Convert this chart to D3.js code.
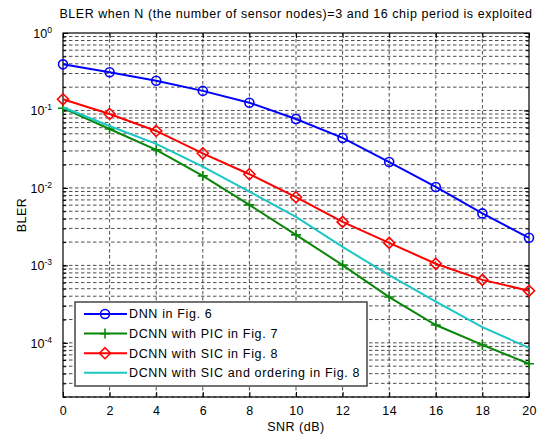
<!DOCTYPE html>
<html>
<head>
<meta charset="utf-8">
<script src="https://cdn.jsdelivr.net/npm/d3@7"></script>
<style>
  body { margin: 0; background: #fff; }
  svg { font-family: "Liberation Sans", Arial, sans-serif; }
</style>
</head>
<body>
<svg id="chart"></svg>
<script>
// Data
const snr = [0, 2, 4, 6, 8, 10, 12, 14, 16, 18, 20];
const dnn = [0.394, 0.311, 0.242, 0.179, 0.126, 0.0777, 0.0442, 0.0216, 0.0103, 0.00469, 0.00227];
const dcnnPic = [0.107, 0.0577, 0.031, 0.0143, 0.00604, 0.00248, 0.00101, 0.00039, 0.00017, 0.000094, 0.0000537];
const dcnnSic = [0.1395, 0.0901, 0.0544, 0.028, 0.01503, 0.00759, 0.00364, 0.00195, 0.00105, 0.00065, 0.00047];
const dcnnSicOrd = [0.11, 0.063, 0.037, 0.0188, 0.00896, 0.00423, 0.00173, 0.00075, 0.00034, 0.00016, 0.000086];

const xTicks = [0, 2, 4, 6, 8, 10, 12, 14, 16, 18, 20];
const yDecades = [0, -1, -2, -3, -4];
const legendNames = ['DNN in Fig. 6', 'DCNN with PIC in Fig. 7', 'DCNN with SIC in Fig. 8', 'DCNN with SIC and ordering in Fig. 8'];

const W = 542, H = 434;
const margin = { top: 33, right: 13, bottom: 37, left: 63 };
const width = W - margin.left - margin.right;
const height = H - margin.top - margin.bottom;

const svg = d3.select('#chart').attr('width', W).attr('height', H);
const g = svg.append('g').attr('transform', `translate(${margin.left},${margin.top})`);

const x = d3.scaleLinear().domain([0, 20]).range([0, width]);
const y = d3.scaleLog().domain([2e-5, 1]).range([height, 0]);

// minor values of the log axis
const minorVals = [];
for (let e = -5; e < 0; e++) {
  for (let m = 1; m <= 9; m++) {
    const v = m * Math.pow(10, e);
    if (v >= 2e-5 && v < 1) minorVals.push(v);
  }
}

g.append('rect').attr('width', width).attr('height', height).attr('fill', '#fff');

// grid
g.append('g').selectAll('line').data(minorVals).enter().append('line')
  .attr('x1', 0).attr('x2', width)
  .attr('y1', d => y(d)).attr('y2', d => y(d))
  .attr('stroke', '#000').attr('stroke-width', 0.7).attr('stroke-dasharray', '3.5,2.5');
g.append('g').selectAll('line').data(xTicks.slice(1, -1)).enter().append('line')
  .attr('x1', d => x(d)).attr('x2', d => x(d))
  .attr('y1', 0).attr('y2', height)
  .attr('stroke', '#000').attr('stroke-width', 0.7).attr('stroke-dasharray', '3.5,2.5');

// axes (ticks pointing inward, MATLAB style)
const xAxisB = g.append('g').attr('transform', `translate(0,${height})`)
  .call(d3.axisBottom(x).tickValues(xTicks).tickSize(-5).tickPadding(9));
g.append('g').call(d3.axisTop(x).tickValues(xTicks).tickSize(-5).tickFormat(''));

const yAxisL = g.append('g')
  .call(d3.axisLeft(y).tickValues(yDecades.map(e => Math.pow(10, e))).tickSize(-5).tickFormat(''));
g.append('g').call(d3.axisLeft(y).tickValues(minorVals).tickSize(-3).tickFormat(''));
g.append('g').attr('transform', `translate(${width},0)`)
  .call(d3.axisRight(y).tickValues(yDecades.map(e => Math.pow(10, e))).tickSize(-5).tickFormat(''));
g.append('g').attr('transform', `translate(${width},0)`)
  .call(d3.axisRight(y).tickValues(minorVals).tickSize(-3).tickFormat(''));

g.selectAll('.domain').remove();
g.selectAll('.tick line').attr('stroke', '#000').attr('stroke-width', 1);
xAxisB.selectAll('text').attr('font-size', 12.5).attr('fill', '#000')
  .attr('letter-spacing', 0.4)
  .attr('font-family', '"Liberation Sans", Arial, sans-serif');

// y tick labels: 10 with superscript exponent
yAxisL.selectAll('.tick').each(function (d) {
  const t = d3.select(this).append('text')
    .attr('x', -11).attr('dy', '0.35em').attr('text-anchor', 'end')
    .attr('fill', '#000').attr('font-size', 12.5)
    .attr('font-family', '"Liberation Sans", Arial, sans-serif');
  t.append('tspan').text('10');
  t.append('tspan').attr('dy', '-0.6em').attr('font-size', 8.5)
    .text(Math.round(Math.log10(d)));
});

// plot box
g.append('rect').attr('width', width).attr('height', height)
  .attr('fill', 'none').attr('stroke', '#000').attr('stroke-width', 1.2);

// series
const series = [
  { name: legendNames[0], values: dnn, color: '#0000ff', marker: 'circle' },
  { name: legendNames[1], values: dcnnPic, color: '#0a860a', marker: 'plus' },
  { name: legendNames[2], values: dcnnSic, color: '#ff0000', marker: 'diamond' },
  { name: legendNames[3], values: dcnnSicOrd, color: '#1cc6c6', marker: null }
];

const line = d3.line().x(d => x(d[0])).y(d => y(d[1]));

function drawMarker(sel, type, color) {
  if (type === 'circle') {
    sel.append('circle').attr('r', 4.5).attr('fill', 'none')
      .attr('stroke', color).attr('stroke-width', 1.6);
  } else if (type === 'plus') {
    sel.append('path').attr('d', 'M-5,0H5M0,-5V5').attr('fill', 'none')
      .attr('stroke', color).attr('stroke-width', 1.6);
  } else if (type === 'diamond') {
    sel.append('path').attr('d', 'M0,-5.5L5.5,0L0,5.5L-5.5,0Z').attr('fill', 'none')
      .attr('stroke', color).attr('stroke-width', 1.6);
  }
}

series.forEach(s => {
  const pts = snr.map((v, i) => [v, s.values[i]]);
  g.append('path').datum(pts).attr('d', line)
    .attr('fill', 'none').attr('stroke', s.color).attr('stroke-width', 2);
  if (s.marker) {
    pts.forEach(p => {
      const m = g.append('g').attr('transform', `translate(${x(p[0])},${y(p[1])})`);
      drawMarker(m, s.marker, s.color);
    });
  }
});

// legend
const lg = svg.append('g').attr('transform', 'translate(75,302)');
lg.append('rect').attr('width', 292).attr('height', 84)
  .attr('fill', '#fff').attr('stroke', '#444').attr('stroke-width', 1.5);
series.forEach((s, i) => {
  const row = lg.append('g').attr('transform', `translate(0,${12 + i * 19.6})`);
  row.append('line').attr('x1', 9).attr('x2', 52)
    .attr('stroke', s.color).attr('stroke-width', 2);
  if (s.marker) drawMarker(row.append('g').attr('transform', 'translate(30,0)'), s.marker, s.color);
  row.append('text').attr('x', 54).attr('dy', '0.35em')
    .attr('font-size', 12.5).attr('letter-spacing', 0.65).attr('fill', '#000').text(s.name);
});

// titles
svg.append('text').attr('x', margin.left + width / 2).attr('y', 18)
  .attr('text-anchor', 'middle').attr('font-size', 12.5).attr('letter-spacing', 0.55)
  .attr('fill', '#000')
  .text('BLER when N (the number of sensor nodes)=3 and 16 chip period is exploited');
svg.append('text').attr('x', margin.left + width / 2).attr('y', 431)
  .attr('text-anchor', 'middle').attr('font-size', 12.5).attr('letter-spacing', 0.5)
  .attr('fill', '#000')
  .text('SNR (dB)');
svg.append('text').attr('transform', `translate(26,${margin.top + height / 2}) rotate(-90)`)
  .attr('text-anchor', 'middle').attr('font-size', 12.5).attr('letter-spacing', 0.5)
  .attr('fill', '#000')
  .text('BLER');
</script>
</body>
</html>
